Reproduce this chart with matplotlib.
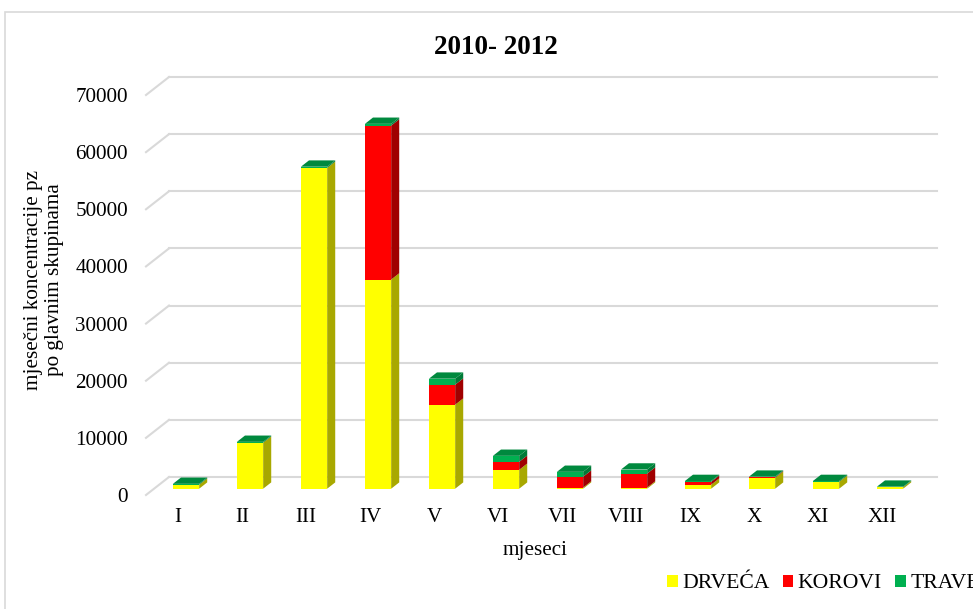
import matplotlib.pyplot as plt
from matplotlib.patches import Polygon, Rectangle, Patch

# monthly pollen concentrations 2010-2012 by main group
months = ['I', 'II', 'III', 'IV', 'V', 'VI', 'VII', 'VIII', 'IX', 'X', 'XI', 'XII']
drveca = [700, 8050, 56150, 36600, 14700, 3300, 200, 200, 700, 1900, 1200, 250]
korovi = [0, 0, 0, 26950, 3500, 1400, 1900, 2450, 500, 100, 0, 0]
trave = [150, 150, 200, 300, 1050, 1050, 850, 700, 150, 100, 150, 100]
series = ['DRVEĆA', 'KOROVI', 'TRAVE']
yticks = list(range(0, 70001, 10000))

plt.rcParams['font.family'] = ['Liberation Serif', 'DejaVu Serif']

# colours: front, side, top
colors = {
    'DRVEĆA': ('#FFFF00', '#A8A800', '#C8C800'),
    'KOROVI': ('#FF0000', '#A00000', '#C00000'),
    'TRAVE': ('#00B050', '#007A37', '#00893E'),
}
grid_col = '#D9D9D9'
fs = 15.2

W, H = 973, 609
fig = plt.figure(figsize=(W / 100, H / 100), dpi=100)
ax = fig.add_axes([146 / W, (H - 495) / H, 768 / W, 400 / H])
ax.set_xlim(-0.5, len(months) - 0.5)
ax.set_ylim(0, 70000)
for s in ax.spines.values():
    s.set_visible(False)

# depth of the 3d box, converted from pixels to data units
px_x = 768 / len(months)
px_y = 400 / 70000
DX = 23 / px_x
DY = 18 / px_y

# back wall gridlines + diagonal on the left side wall
for v in yticks:
    ax.plot([-0.5, -0.5 + DX], [v, v + DY], color=grid_col, lw=1.5, clip_on=False, zorder=1)
    ax.plot([-0.5 + DX, len(months) - 0.5 + DX], [v + DY, v + DY], color=grid_col, lw=1.5,
            clip_on=False, zorder=1)

f0, f1 = 0.35, 0.70
w = 0.41
d, dd = (f1 - f0) * DX, (f1 - f0) * DY
data = {'DRVEĆA': drveca, 'KOROVI': korovi, 'TRAVE': trave}

for i in range(len(months)):
    x0 = i - w / 2 + f0 * DX
    bottom = f0 * DY
    for name in series:
        val = data[name][i]
        if val <= 0:
            continue
        front, side, top = colors[name]
        ax.bar(x0, val, width=w, bottom=bottom, align='edge', color=front, linewidth=0, zorder=3)
        ax.add_patch(Polygon([(x0 + w, bottom), (x0 + w + d, bottom + dd), (x0 + w + d, bottom + val + dd),
                              (x0 + w, bottom + val)], closed=True, facecolor=side, lw=0, zorder=3))
        bottom += val
    top_col = colors[series[-1]][2]
    ax.add_patch(Polygon([(x0, bottom), (x0 + w, bottom), (x0 + w + d, bottom + dd), (x0 + d, bottom + dd)],
                         closed=True, facecolor=top_col, lw=0, zorder=3))

ax.set_yticks(yticks)
ax.set_yticklabels([str(v) for v in yticks])
ax.tick_params(axis='y', length=0, pad=13, labelsize=fs)
ax.set_xticks(range(len(months)))
ax.set_xticklabels(months)
ax.tick_params(axis='x', length=0, pad=9.5, labelsize=fs)

fig.text(496 / W, 1 - 47 / H, '2010- 2012', ha='center', va='center', fontsize=19.5, fontweight='bold')
fig.text(535 / W, 1 - 550 / H, 'mjeseci', ha='center', va='center', fontsize=fs)
fig.text(44 / W, 1 - 280 / H, 'mjesečni koncentracije pz\npo glavnim skupinama', ha='center', va='center',
         rotation=90, fontsize=fs, multialignment='center', linespacing=1.15)

handles = [Patch(facecolor=colors[n][0], edgecolor='none', label=n) for n in series]
fig.legend(handles=handles, loc='center left', bbox_to_anchor=(667 / W, 1 - 584 / H), ncol=3,
           frameon=False, fontsize=15.6, handlelength=0.5, handleheight=0.5, handletextpad=0.2,
           columnspacing=0.6, borderpad=0, borderaxespad=0)

# chart area border (only left and top edges are inside the picture)
fig.add_artist(Rectangle((5 / W, -0.1), 2, 1 - 12 / H + 0.1, transform=fig.transFigure,
                         fill=False, edgecolor=grid_col, lw=1.2))

plt.savefig('out.png', dpi=100)
